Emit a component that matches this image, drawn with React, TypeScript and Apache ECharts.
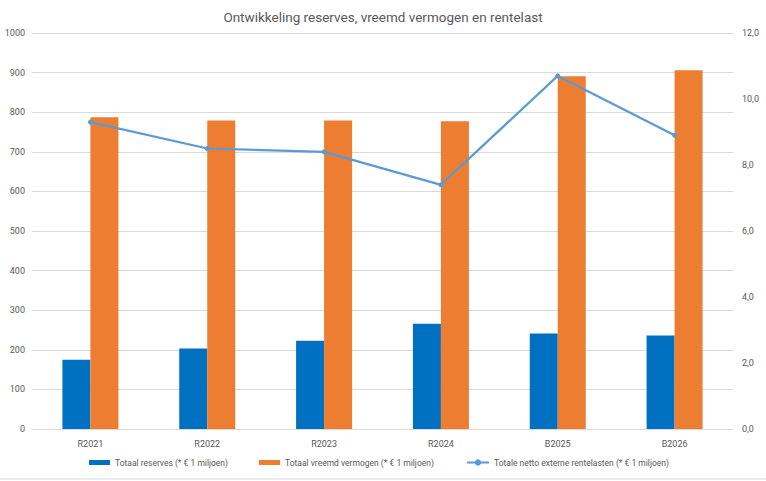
import React, { useEffect, useRef } from "react";
import * as echarts from "echarts";

const categories = ["R2021", "R2022", "R2023", "R2024", "B2025", "B2026"];
const reserves = [175, 203, 223, 266, 241, 236];
const vreemdVermogen = [787, 779, 779, 777, 891, 906];
const rentelasten = [9.3, 8.5, 8.4, 7.4, 10.7, 8.9];

const nameReserves = "Totaal reserves (* € 1 miljoen)";
const nameVreemd = "Totaal vreemd vermogen (* € 1 miljoen)";
const nameRente = "Totale netto externe rentelasten (* € 1 miljoen)";

const FONT = "Roboto";
const GREY = "#595959";

export default function App() {
  const ref = useRef<HTMLDivElement>(null);
  useEffect(() => {
    if (!ref.current) return;
    const chart = echarts.init(ref.current, undefined, { renderer: "svg" });
    const legendText = { color: GREY, fontSize: 8.5, fontFamily: FONT };
    chart.setOption({
      animation: false,
      backgroundColor: "#ffffff",
      title: {
        text: "Ontwikkeling reserves, vreemd vermogen en rentelast",
        left: "center",
        top: 5,
        textStyle: { color: GREY, fontSize: 13.5, fontWeight: "normal", fontFamily: FONT },
      },
      grid: { left: 32, right: 33, top: 33, bottom: 52, containLabel: false },
      legend: [
        {
          data: [nameReserves], left: 89, top: 458, itemWidth: 21, itemHeight: 5,
          itemGap: 0, textStyle: legendText, icon: "rect", padding: 0,
        },
        {
          data: [nameVreemd], left: 259, top: 458, itemWidth: 21, itemHeight: 5,
          itemGap: 0, textStyle: legendText, icon: "rect", padding: 0,
        },
        {
          data: [nameRente], left: 466, top: 458, itemWidth: 22, itemHeight: 8,
          itemGap: 0, textStyle: legendText, padding: 0,
        },
      ],
      xAxis: {
        type: "category",
        data: categories,
        axisTick: { show: false },
        axisLine: { lineStyle: { color: "#D9D9D9", width: 1 } },
        axisLabel: { color: GREY, fontSize: 9, fontFamily: FONT, margin: 10 },
      },
      yAxis: [
        {
          type: "value",
          min: 0,
          max: 1000,
          interval: 100,
          axisLine: { show: false },
          axisTick: { show: false },
          splitLine: { lineStyle: { color: "#D9D9D9", width: 1 } },
          axisLabel: {
            color: GREY,
            fontSize: 9,
            fontFamily: FONT,
            margin: 7,
            hideOverlap: false,
            formatter: (v: number) => String(v),
          },
        },
        {
          type: "value",
          min: 0,
          max: 12,
          interval: 2,
          axisLine: { show: false },
          axisTick: { show: false },
          splitLine: { show: false },
          axisLabel: {
            color: GREY,
            fontSize: 9,
            fontFamily: FONT,
            margin: 9,
            hideOverlap: false,
            formatter: (v: number) => v.toFixed(1).replace(".", ","),
          },
        },
      ],
      series: [
        {
          name: nameReserves,
          type: "bar",
          data: reserves,
          barWidth: 28,
          barGap: "0%",
          itemStyle: { color: "#0070C0" },
        },
        {
          name: nameVreemd,
          type: "bar",
          data: vreemdVermogen,
          barWidth: 28,
          barGap: "0%",
          itemStyle: { color: "#ED7D31" },
        },
        {
          name: nameRente,
          type: "line",
          yAxisIndex: 1,
          data: rentelasten,
          symbol: "circle",
          symbolSize: 5,
          lineStyle: { color: "#5B9BD5", width: 2.25 },
          itemStyle: { color: "#5B9BD5" },
        },
      ],
      graphic: [
        {
          type: "line",
          shape: { x1: 0, y1: 479, x2: 766, y2: 479 },
          style: { stroke: "#D9D9D9", lineWidth: 1 },
        },
      ],
    });
    return () => chart.dispose();
  }, []);
  return (
    <div
      ref={ref}
      style={{ position: "fixed", left: 0, top: 0, width: 766, height: 481 }}
    />
  );
}
